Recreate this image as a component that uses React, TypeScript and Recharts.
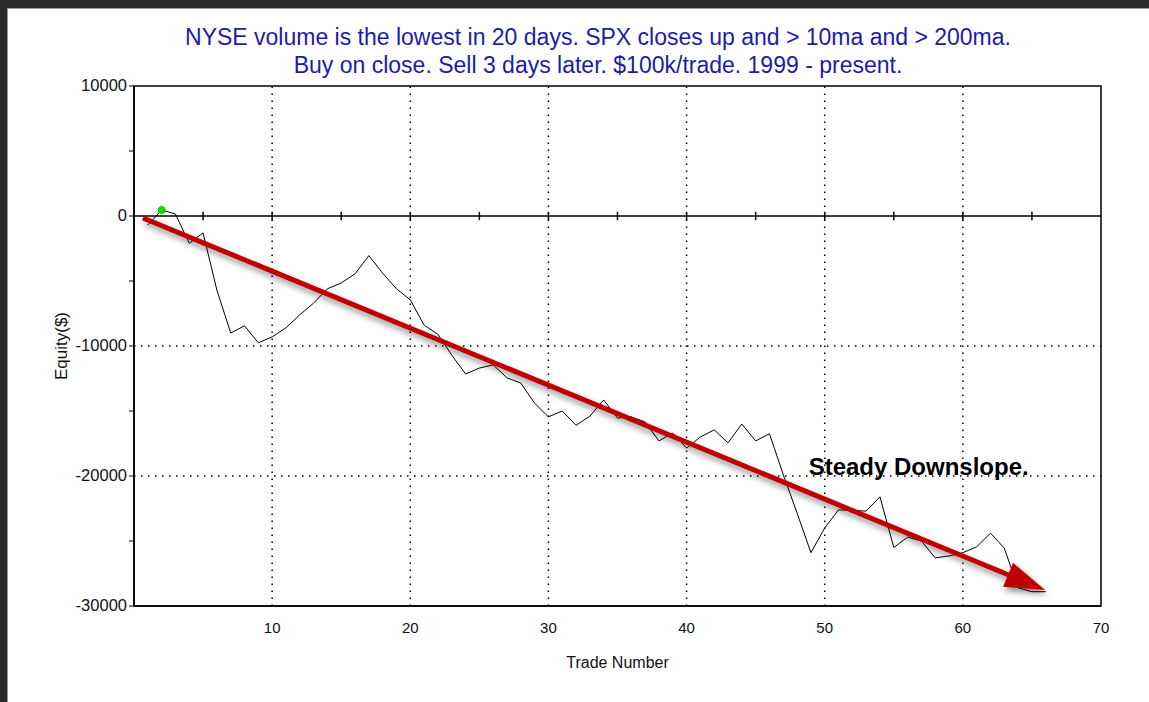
import React from 'react';
import {
  LineChart,
  Line,
  XAxis,
  YAxis,
  ReferenceLine,
  ReferenceArea,
  ReferenceDot,
} from 'recharts';

// trade number and cumulative equity ($)
const tradeNumbers = [
  1, 2, 3, 4, 5, 6, 7, 8, 9, 10, 11, 12, 13, 14, 15, 16, 17, 18, 19, 20, 21, 22,
  23, 24, 25, 26, 27, 28, 29, 30, 31, 32, 33, 34, 35, 36, 37, 38, 39, 40, 41, 42,
  43, 44, 45, 46, 47, 48, 49, 50, 51, 52, 53, 54, 55, 56, 57, 58, 59, 60, 61, 62,
  63, 64, 65, 66,
];
const equity = [
  -700, 460, 150, -2100, -1300, -5700, -9000, -8450, -9750, -9300, -8600, -7600,
  -6700, -5600, -5150, -4450, -3050, -4400, -5600, -6450, -8400, -9100, -10700,
  -12150, -11700, -11450, -12450, -12850, -14400, -15450, -15000, -16100, -15400,
  -14150, -15550, -15450, -15850, -17300, -16700, -17850, -17000, -16450, -17450,
  -16000, -17300, -16750, -19900, -22850, -25900, -24000, -22600, -22650, -22700,
  -21600, -25500, -24700, -25000, -26300, -26150, -25900, -25450, -24400, -25550,
  -28600, -28900, -28900,
];

const xTicks = [10, 20, 30, 40, 50, 60, 70];
const xGrid = [10, 20, 30, 40, 50, 60];
const zeroLineTicks = [5, 10, 15, 20, 25, 30, 35, 40, 45, 50, 55, 60, 65];
const yTicks = [-30000, -25000, -20000, -15000, -10000, -5000, 0, 5000, 10000];
const yGrid = [-10000, -20000];

const titleLines = [
  'NYSE volume is the lowest in 20 days. SPX closes up and > 10ma and > 200ma.',
  'Buy on close. Sell 3 days later. $100k/trade. 1999 - present.',
];

// best trade marker and the trend arrow
const peak = { x: 2, y: 460 };
const arrowFrom = { x: 0.65, y: -150 };
const arrowTo = { x: 65.95, y: -28770 };
const note = { x: 56.8, y: -19230, text: 'Steady Downslope.' };

const data = tradeNumbers.map((t, i) => ({ trade: t, equity: equity[i] }));

const ArrowShape = (props: any) => {
  const { x1, y1, x2, y2 } = props;
  const dx = x2 - x1;
  const dy = y2 - y1;
  const len = Math.sqrt(dx * dx + dy * dy);
  const ux = dx / len;
  const uy = dy / len;
  const headLen = 40;
  const headHalf = 13;
  const bx = x2 - ux * headLen;
  const by = y2 - uy * headLen;
  const pts = [
    `${x2},${y2}`,
    `${bx - uy * headHalf},${by + ux * headHalf}`,
    `${bx + uy * headHalf},${by - ux * headHalf}`,
  ].join(' ');
  return (
    <g style={{ filter: 'drop-shadow(2px 4px 3px rgba(0,0,0,0.45))' }}>
      <line x1={x1} y1={y1} x2={bx + ux * 4} y2={by + uy * 4} stroke="#c00000" strokeWidth={5} />
      <polygon points={pts} fill="#c00000" />
    </g>
  );
};

const YTick = (props: any) => {
  const { x, y, payload } = props;
  if (payload.value % 10000 !== 0) return null;
  return (
    <text x={x} y={y} dy={5} textAnchor="end" fontSize={16.5} fill="#111">
      {payload.value}
    </text>
  );
};

export default function App() {
  return (
    <div
      style={{
        position: 'absolute',
        left: 0,
        top: 0,
        width: 1149,
        height: 702,
        background: '#fff',
        overflow: 'hidden',
        fontFamily: '"Liberation Sans", Arial, sans-serif',
      }}
    >
      {/* window frame */}
      <div style={{ position: 'absolute', left: 0, top: 0, width: 1149, height: 8, background: '#2b2b2b' }} />
      <div style={{ position: 'absolute', left: 0, top: 8, width: 1149, height: 1, background: '#9a9a9a' }} />
      <div style={{ position: 'absolute', left: 0, top: 0, width: 7, height: 702, background: '#2b2b2b' }} />
      <div style={{ position: 'absolute', left: 7, top: 8, width: 1, height: 694, background: '#9a9a9a' }} />

      {/* title */}
      <div
        style={{
          position: 'absolute',
          left: 48,
          top: 23,
          width: 1100,
          textAlign: 'center',
          color: '#1c1ca8',
          fontSize: 23,
          lineHeight: '28px',
        }}
      >
        {titleLines.map((l) => (
          <div key={l}>{l}</div>
        ))}
      </div>

      <div style={{ position: 'absolute', left: 0, top: 0 }}>
        <LineChart width={1149} height={702} data={data} margin={{ top: 86, right: 48, bottom: 34, left: 64 }}>
          <XAxis
            dataKey="trade"
            type="number"
            domain={[0, 70]}
            ticks={xTicks}
            axisLine={{ stroke: '#000', strokeWidth: 1.5 }}
            tickLine={false}
            tickSize={8}
            tickMargin={8}
            height={62}
            tick={{ fontSize: 15, fill: '#111' }}
            label={{ value: 'Trade Number', position: 'insideBottom', offset: 0, fontSize: 16, fill: '#111' }}
          />
          <YAxis
            type="number"
            domain={[-30000, 10000]}
            ticks={yTicks}
            width={70}
            axisLine={{ stroke: '#000', strokeWidth: 1.5 }}
            tickLine={{ stroke: '#000' }}
            tickSize={5}
            tickMargin={2}
            tick={<YTick />}
            interval={0}
          />
          <ReferenceArea x1={0} x2={70} y1={-30000} y2={10000} fill="none" stroke="#000" strokeWidth={1.5} ifOverflow="visible" />
          {xGrid.map((v) => (
            <ReferenceLine key={`vx${v}`} x={v} stroke="#000" strokeWidth={1.5} strokeDasharray="1.5 5.5" />
          ))}
          {yGrid.map((v) => (
            <ReferenceLine key={`hy${v}`} y={v} stroke="#000" strokeWidth={1.5} strokeDasharray="1.5 5.5" />
          ))}
          <ReferenceLine y={0} stroke="#000" strokeWidth={1.3} />
          {zeroLineTicks.map((v) => (
            <ReferenceLine
              key={`zt${v}`}
              segment={[{ x: v, y: -320 }, { x: v, y: 320 }]}
              stroke="#000"
              strokeWidth={1.5}
            />
          ))}
          <Line
            type="linear"
            dataKey="equity"
            stroke="#000"
            strokeWidth={1}
            dot={false}
            isAnimationActive={false}
          />
          <ReferenceDot x={peak.x} y={peak.y} r={3.5} fill="#00e600" stroke="#00c800" />
          <ReferenceLine
            segment={[arrowFrom, arrowTo]}
            ifOverflow="visible"
            shape={(p: any) => <ArrowShape {...p} />}
          />
          <ReferenceDot
            x={note.x}
            y={note.y}
            r={0}
            label={{ value: note.text, position: 'center', fontSize: 24, fontWeight: 'bold', fill: '#000' }}
          />
        </LineChart>
      </div>

      {/* y axis title */}
      <div
        style={{
          position: 'absolute',
          left: 62,
          top: 346,
          transform: 'translate(-50%, -50%) rotate(-90deg)',
          fontSize: 17,
          color: '#111',
          whiteSpace: 'nowrap',
        }}
      >
        Equity($)
      </div>
    </div>
  );
}
